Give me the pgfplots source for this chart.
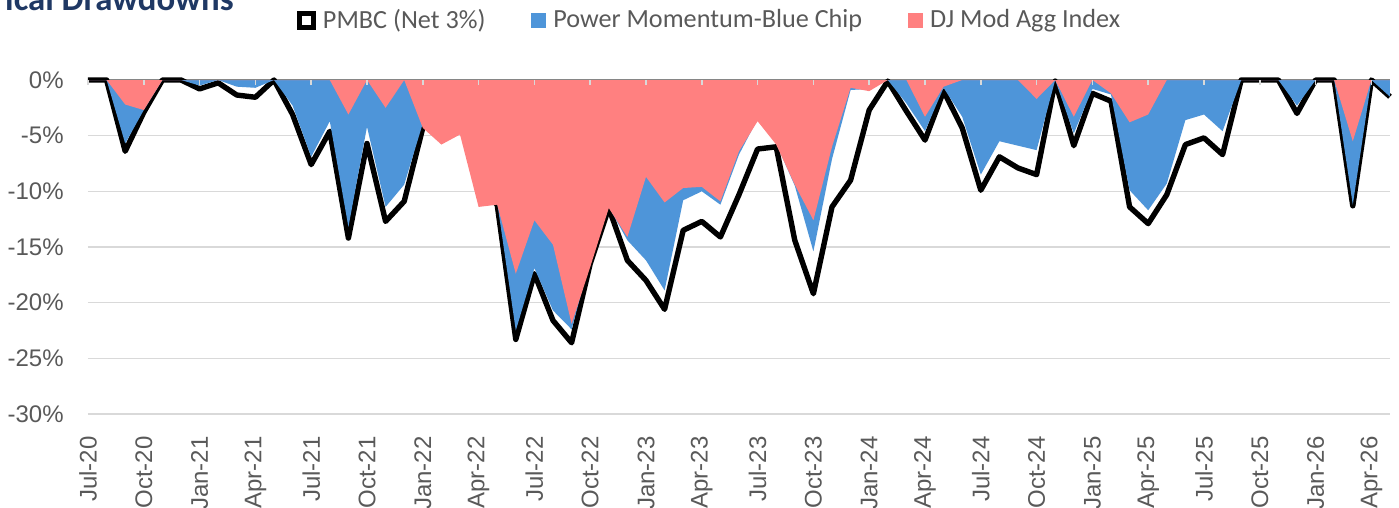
\documentclass[border=0pt]{standalone}
\usepackage{pgfplots}
\usepackage{pgfplotstable}
\pgfplotsset{compat=1.18}
\usepackage{fontspec}
\setmainfont{Liberation Sans}
\newfontfamily\carlito{Carlito}
\definecolor{pmblue}{RGB}{78,149,217}
\definecolor{djred}{RGB}{255,128,128}
\definecolor{txtgray}{RGB}{89,89,89}
\definecolor{gridgray}{RGB}{217,217,217}
\definecolor{axgray}{RGB}{134,134,134}
\definecolor{titleblue}{RGB}{31,56,100}

\pgfplotstableread{
i pmbc pm dj
0 0 0 0
1 0 0 0
2 -6.4 -5.7 -2.2
3 -2.9 -2.7 -2.7
4 0 0 0
5 0 0 0
6 -0.8 -0.5 0
7 -0.25 0 0
8 -1.35 -0.6 0
9 -1.55 -0.7 0
10 0 0 0
11 -3.1 -2.3 0
12 -7.6 -6.9 0
13 -4.6 -3.7 0
14 -14.2 -13.2 -3.1
15 -5.7 -4.2 0
16 -12.7 -11.4 -2.5
17 -10.9 -9.4 0
18 -4.3 -3.9 -4.3
19 -3.8 -3.6 -5.8
20 -3.8 -3.6 -4.9
21 -9.5 -9.3 -11.4
22 -11.2 -11.0 -11.2
23 -23.3 -22.5 -17.4
24 -17.4 -16.9 -12.6
25 -21.6 -20.7 -14.8
26 -23.6 -22.4 -21.9
27 -16.5 -16.2 -16.8
28 -11.5 -11.4 -11.5
29 -16.2 -14.4 -14.1
30 -18.0 -16.2 -8.7
31 -20.6 -18.9 -11.0
32 -13.5 -10.8 -9.7
33 -12.7 -10.0 -9.6
34 -14.1 -11.2 -10.9
35 -10.3 -6.7 -6.4
36 -6.2 -3.5 -3.7
37 -6.0 -5.7 -5.8
38 -14.4 -9.5 -9.4
39 -19.2 -15.4 -12.6
40 -11.4 -7.1 -6.0
41 -9.0 -0.9 -0.7
42 -2.7 -0.8 -1.0
43 -0.1 0 0
44 -2.8 -2.1 0
45 -5.4 -4.6 -3.3
46 -1.0 -0.7 -0.6
47 -4.3 -3.3 0
48 -9.9 -8.5 0
49 -6.9 -5.5 0
50 -7.9 -5.9 0
51 -8.5 -6.3 -1.7
52 -0.1 0 0
53 -5.9 -4.8 -3.3
54 -1.2 -0.8 0
55 -1.9 -1.3 -1.2
56 -11.4 -9.9 -3.8
57 -12.9 -11.7 -3.1
58 -10.3 -9.3 0
59 -5.8 -3.6 0
60 -5.2 -3.1 0
61 -6.7 -4.6 0
62 0 0 0
63 0 0 0
64 0 0 0
65 -3.0 -2.3 0
66 0 0 0
67 0 0 0
68 -11.3 -11.2 -5.5
69 0 0 0
70 -1.5 -1.5 0
}\dd

\begin{document}
\begin{tikzpicture}
\useasboundingbox (-44pt,-47pt) rectangle (655.5pt,207pt);
\begin{axis}[
  scale only axis, width=651pt, height=167pt,
  xmin=0, xmax=70, ymin=-30, ymax=0,
  clip=false,
  axis line style={draw=none},
  major tick length=0pt,
  ymajorgrids, grid style={gridgray, line width=0.75pt},
  ytick={-30,-25,...,0},
  yticklabels={-30\%,-25\%,-20\%,-15\%,-10\%,-5\%,0\%},
  xtick={0,3,...,69},
  xticklabels={Jul-20,Oct-20,Jan-21,Apr-21,Jul-21,Oct-21,Jan-22,Apr-22,Jul-22,Oct-22,Jan-23,Apr-23,Jul-23,Oct-23,Jan-24,Apr-24,Jul-24,Oct-24,Jan-25,Apr-25,Jul-25,Oct-25,Jan-26,Apr-26},
  tick label style={font=\fontsize{12}{14}\selectfont, text=txtgray},
  yticklabel style={inner sep=0pt, anchor=east, xshift=-12pt},
  xticklabel style={rotate=90, anchor=east, inner sep=0pt},
  xticklabel shift=11pt,
  legend columns=3,
  legend cell align=left,
  legend style={at={(0.1605,1.1796)}, anchor=west, draw=none, fill=none,
    inner sep=0pt, outer sep=0pt,
    font=\carlito\fontsize{13.1}{15}\selectfont, text=txtgray,
    nodes={inner sep=0pt},
    /tikz/every even column/.append style={column sep=23pt},
    /tikz/every odd column/.append style={column sep=3.5pt}},
]
\draw[axgray, line width=0.75pt] (axis cs:0,0) -- (axis cs:70,0);
\addplot[fill=white, draw=none, forget plot] table[x=i,y=pmbc]{\dd} \closedcycle;
\addplot[black, line width=2.7pt, line join=round, forget plot] table[x=i,y=pmbc]{\dd};
\addplot[fill=pmblue, draw=none, forget plot] table[x=i,y=pm]{\dd} \closedcycle;
\addplot[fill=djred, draw=none, forget plot] table[x=i,y=dj]{\dd} \closedcycle;

\addlegendimage{legend image code/.code={\draw[black, line width=2.5pt, fill=white] (0pt,-3.5pt) rectangle (7pt,3.5pt);}}
\addlegendentry{PMBC (Net 3\%)}
\addlegendimage{legend image code/.code={\fill[pmblue] (0pt,-3.5pt) rectangle (7pt,3.5pt);}}
\addlegendentry{Power Momentum-Blue Chip}
\addlegendimage{legend image code/.code={\fill[djred] (0pt,-3.5pt) rectangle (7pt,3.5pt);}}
\addlegendentry{DJ Mod Agg Index}

\pgfplotsinvokeforeach{0,3,...,69}{\draw[gridgray, line width=0.75pt] (axis cs:#1,0) -- (axis cs:#1,-0.45);}
\end{axis}
\node[anchor=base east, font=\carlito\bfseries\fontsize{17.4}{20}\selectfont, text=titleblue, inner sep=0pt] at (73pt,201.5pt) {Historical Drawdowns};
\end{tikzpicture}
\end{document}
